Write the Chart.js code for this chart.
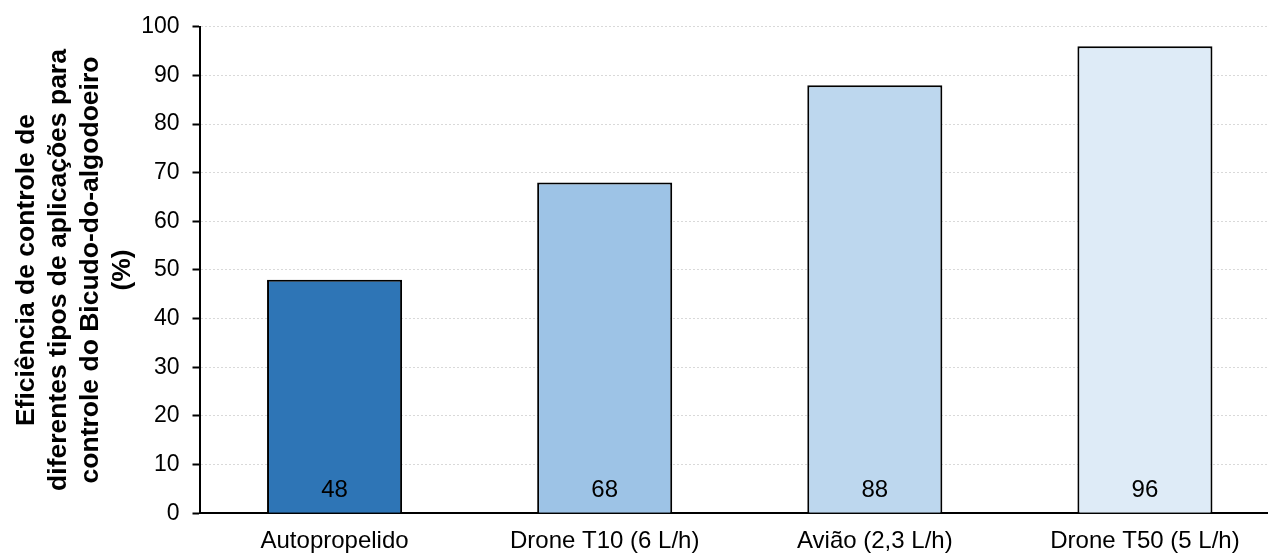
<!DOCTYPE html>
<html lang="pt">
<head>
<meta charset="utf-8">
<title>Eficiência de controle do Bicudo-do-algodoeiro</title>
<script src="https://cdn.jsdelivr.net/npm/chart.js@4.4.1/dist/chart.umd.min.js"></script>
<style>
    html, body { margin: 0; padding: 0; background: #fff; overflow: hidden; }
    #wrap { width: 1268px; height: 553px; overflow: hidden; }
    canvas { display: block; }
</style>
</head>
<body>
<div id="wrap">
    <canvas id="efficiencyChart" width="1280" height="570"></canvas>
</div>
<script>
// Chart data
var categories = ['Autopropelido', 'Drone T10 (6 L/h)', 'Avião (2,3 L/h)', 'Drone T50 (5 L/h)'];
var efficiency = [48, 68, 88, 96];
var barColors = ['#2E75B6', '#9DC3E6', '#BDD7EE', '#DEEBF7'];
var yTitle = ['Eficiência de controle de', 'diferentes tipos de aplicações para', 'controle do Bicudo-do-algodoeiro', '(%)'];

(function() {
    'use strict';

    var FONT = '"Liberation Sans", Arial, sans-serif';

    // Writes the value near the foot of each bar
    var barValues = {
        id: 'barValues',
        afterDatasetsDraw: function(chart) {
            var ctx = chart.ctx;
            var meta = chart.getDatasetMeta(0);
            var yScale = chart.scales.y;
            var base = yScale.getPixelForValue(0);
            ctx.save();
            ctx.font = '24px ' + FONT;
            ctx.fillStyle = '#000';
            ctx.textAlign = 'center';
            ctx.textBaseline = 'alphabetic';
            for (var i = 0; i < meta.data.length; i++) {
                var bar = meta.data[i];
                ctx.fillText(String(chart.data.datasets[0].data[i]), bar.x, base - 16);
            }
            ctx.restore();
        }
    };

    function initChart() {
        var canvas = document.getElementById('efficiencyChart');
        if (!canvas) {
            console.error('Canvas element #efficiencyChart not found');
            return;
        }
        var ctx = canvas.getContext('2d');

        new Chart(ctx, {
            type: 'bar',
            data: {
                labels: categories,
                datasets: [{
                    data: efficiency,
                    backgroundColor: barColors,
                    borderColor: '#000',
                    borderWidth: 2,
                    barPercentage: 0.5,
                    categoryPercentage: 1
                }]
            },
            options: {
                responsive: false,
                animation: false,
                devicePixelRatio: 1,
                layout: { padding: { top: 11, left: 0, right: 0, bottom: 0 } },
                plugins: {
                    legend: { display: false },
                    tooltip: { enabled: false }
                },
                scales: {
                    x: {
                        grid: { display: false, drawTicks: false },
                        border: { display: true, color: '#000', width: 2 },
                        ticks: {
                            color: '#000',
                            padding: 14,
                            font: { family: FONT, size: 24 }
                        }
                    },
                    y: {
                        min: 0,
                        max: 100,
                        afterFit: function(scale) {
                            scale.width = 199.5;
                        },
                        ticks: {
                            stepSize: 10,
                            color: '#000',
                            padding: 13,
                            font: { family: FONT, size: 23 }
                        },
                        grid: {
                            color: '#d9d9d9',
                            lineWidth: 1,
                            tickColor: '#000',
                            tickLength: 7,
                            tickWidth: 2
                        },
                        border: { display: true, color: '#000', width: 2, dash: [2, 2] },
                        title: {
                            display: true,
                            text: yTitle,
                            color: '#000',
                            padding: { top: 11, bottom: 0 },
                            font: { family: FONT, size: 26.5, weight: 'bold', lineHeight: '32px' }
                        }
                    }
                }
            },
            plugins: [barValues]
        });
    }

    if (document.readyState === 'loading') {
        document.addEventListener('DOMContentLoaded', initChart);
    } else {
        initChart();
    }
})();
</script>
</body>
</html>
